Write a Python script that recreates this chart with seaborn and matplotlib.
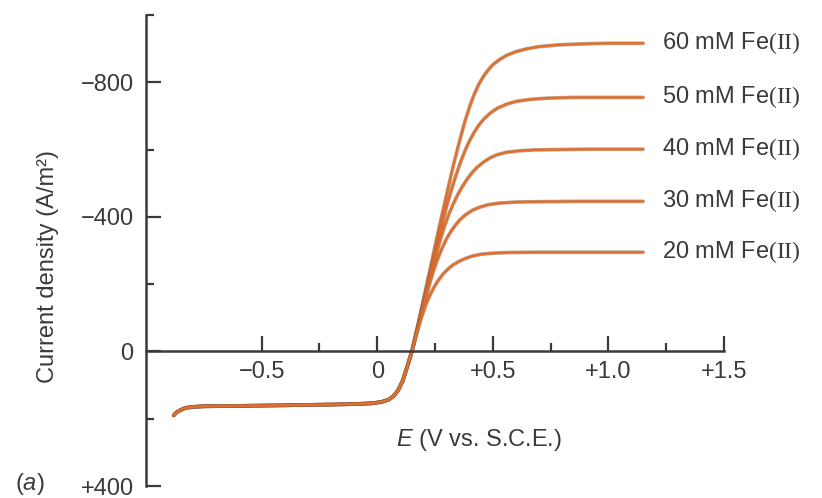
import pandas as pd
import numpy as np
import matplotlib
matplotlib.use('Agg')
import matplotlib.pyplot as plt
import matplotlib.patheffects as pe
import seaborn as sns

# Polarization curves: E in V vs. S.C.E., current density in A/m^2
# Cathodic branch is common to all curves
e_cathodic = [-0.88, -0.87, -0.85, -0.83, -0.80, -0.75, -0.6, -0.4, -0.2, -0.08, -0.02,
              0.02, 0.05, 0.07, 0.09, 0.11, 0.13]
i_cathodic = [190, 182, 174, 168, 165, 163, 162, 160, 158, 156, 154, 150, 143, 133, 116, 88, 45]

e_60 = [0.15, 0.18, 0.21, 0.24, 0.27, 0.30, 0.33, 0.36, 0.38, 0.40, 0.42, 0.44, 0.46, 0.48,
        0.50, 0.53, 0.56, 0.60, 0.65, 0.70, 0.78, 0.88, 1.0, 1.15]
i_60 = [0, -90, -185, -280, -375, -465, -555, -635, -685, -728, -765, -795, -818, -837,
        -852, -868, -880, -891, -900, -906, -911, -914, -916, -916]

e_50 = [0.15, 0.18, 0.21, 0.24, 0.27, 0.30, 0.32, 0.34, 0.36, 0.38, 0.40, 0.42, 0.44, 0.46,
        0.49, 0.52, 0.56, 0.60, 0.66, 0.74, 0.85, 1.0, 1.15]
i_50 = [0, -88, -178, -265, -350, -430, -478, -522, -562, -597, -627, -652, -673, -690,
        -709, -723, -735, -743, -749, -753, -755, -755, -755]

e_40 = [0.15, 0.18, 0.21, 0.24, 0.27, 0.29, 0.31, 0.33, 0.35, 0.37, 0.39, 0.41, 0.43, 0.46,
        0.49, 0.52, 0.56, 0.61, 0.68, 0.78, 0.9, 1.15]
i_40 = [0, -85, -170, -250, -325, -370, -408, -440, -468, -492, -513, -531, -546, -563,
        -576, -585, -592, -596, -599, -600, -601, -601]

e_30 = [0.15, 0.18, 0.21, 0.24, 0.26, 0.28, 0.30, 0.32, 0.34, 0.36, 0.38, 0.41, 0.44, 0.48,
        0.53, 0.6, 0.7, 0.85, 1.15]
i_30 = [0, -80, -160, -232, -272, -306, -335, -358, -377, -393, -405, -419, -428, -436,
        -441, -444, -445, -446, -446]

e_20 = [0.15, 0.17, 0.19, 0.21, 0.23, 0.25, 0.27, 0.29, 0.31, 0.33, 0.35, 0.38, 0.41, 0.45,
        0.5, 0.57, 0.7, 0.9, 1.15]
i_20 = [0, -52, -98, -138, -170, -196, -217, -234, -247, -258, -266, -276, -283, -289,
        -292, -294, -295, -295, -295]

curve_labels = ['60 mM Fe$\\mathrm{(II)}$', '50 mM Fe$\\mathrm{(II)}$', '40 mM Fe$\\mathrm{(II)}$',
                '30 mM Fe$\\mathrm{(II)}$', '20 mM Fe$\\mathrm{(II)}$']
anodic_e = [e_60, e_50, e_40, e_30, e_20]
anodic_i = [i_60, i_50, i_40, i_30, i_20]

x_major = [-0.5, 0, 0.5, 1.0, 1.5]
x_major_labels = ['\u22120.5', '0', '+0.5', '+1.0', '+1.5']
x_minor = [-0.25, 0.25, 0.75, 1.25]
y_major = [-800, -400, 0, 400]
y_major_labels = ['\u2212800', '\u2212400', '0', '+400']
y_minor = [-1000, -600, -200, 200]

# long-form table for seaborn
rows = []
for lab, es, cs in zip(curve_labels, anodic_e, anodic_i):
    for e, c in zip(e_cathodic + es, i_cathodic + cs):
        rows.append({'E': e, 'i': c, 'curve': lab})
df = pd.DataFrame(rows)

sns.set_style('ticks')
plt.rcParams['font.family'] = ['Liberation Sans', 'DejaVu Sans']
plt.rcParams['mathtext.fontset'] = 'custom'
plt.rcParams['mathtext.rm'] = 'Liberation Serif'
plt.rcParams['mathtext.it'] = 'Liberation Sans:italic'

text_color = '#3a3a3a'
line_color = '#E2702C'
fs = 17

fig = plt.figure(figsize=(8.22, 4.98), dpi=100)
ax = fig.add_axes([146 / 822, 1 - 486 / 498, (724 - 146) / 822, (486 - 15) / 498])

sns.lineplot(data=df, x='E', y='i', hue='curve', palette=[line_color] * 5,
             estimator=None, sort=False, legend=False, linewidth=1.7, ax=ax,
             path_effects=[pe.Stroke(linewidth=2.7, foreground='#8a5b40', alpha=0.55), pe.Normal()])

ax.set_xlim(-1.0, 1.5)
ax.set_ylim(400, -1000)

ax.spines['top'].set_visible(False)
ax.spines['right'].set_visible(False)
ax.spines['bottom'].set_position(('data', 0))
for s in ['left', 'bottom']:
    ax.spines[s].set_linewidth(1.8)
    ax.spines[s].set_color(text_color)

ax.set_xticks(x_major)
ax.set_xticklabels(x_major_labels)
ax.set_xticks(x_minor, minor=True)
ax.set_yticks(y_major)
ax.set_yticklabels(y_major_labels)
ax.set_yticks(y_minor, minor=True)

ax.tick_params(which='both', direction='in', color=text_color, width=1.6, labelcolor=text_color, labelsize=fs)
ax.tick_params(which='major', length=11)
ax.tick_params(which='minor', length=6)
ax.tick_params(axis='x', which='major', pad=7)
ax.tick_params(axis='y', which='major', pad=9)

ax.set_xlabel('')
ax.set_ylabel('Current density (A/m\u00b2)', fontsize=fs, color=text_color)
ax.yaxis.set_label_coords(-0.150, 0.467)

ax.text(0.44, 263, '$\\it{E}$ (V vs. S.C.E.)', fontsize=fs, color=text_color, ha='center', va='center')

for lab, es, cs in zip(curve_labels, anodic_e, anodic_i):
    ax.text(es[-1] + 0.08, cs[-1], lab, fontsize=fs, color=text_color, ha='left', va='center', clip_on=False)

fig.text(15 / 822, 1 - 484 / 498, '($\\it{a}$)', fontsize=fs, color=text_color, ha='left', va='center')

fig.savefig('out.png', dpi=100)
